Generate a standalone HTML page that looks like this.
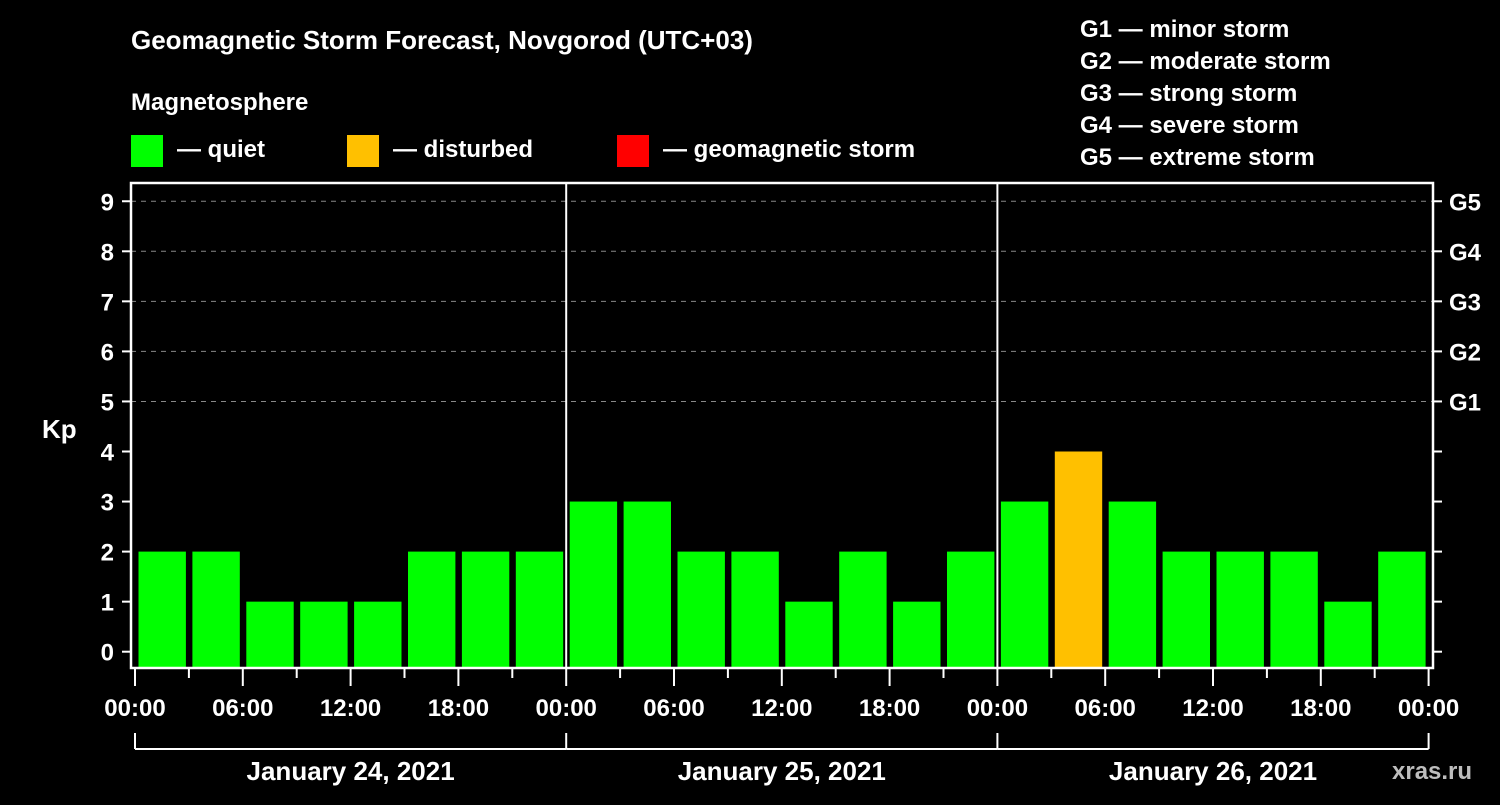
<!DOCTYPE html>
<html><head><meta charset="utf-8"><style>
body{margin:0;background:#000;width:1500px;height:800px;overflow:hidden}
svg text{font-family:"Liberation Sans",Arial,sans-serif;font-weight:bold;fill:#fff}
</style></head><body>
<svg id="c" width="1500" height="800" xmlns="http://www.w3.org/2000/svg">
<rect width="1500" height="800" fill="#000"/>
<text x="131" y="49" font-size="26">Geomagnetic Storm Forecast, Novgorod (UTC+03)</text>
<text x="131" y="110" font-size="24">Magnetosphere</text>
<g><rect x="131" y="135" width="32" height="32" fill="#00ff00"/><text x="177" y="157" font-size="24">— quiet</text></g>
<g><rect x="347" y="135" width="32" height="32" fill="#ffc000"/><text x="393" y="157" font-size="24">— disturbed</text></g>
<g><rect x="617" y="135" width="32" height="32" fill="#ff0000"/><text x="663" y="157" font-size="24">— geomagnetic storm</text></g>
<g font-size="24">
<text x="1080" y="37">G1 — minor storm</text>
<text x="1080" y="69">G2 — moderate storm</text>
<text x="1080" y="101">G3 — strong storm</text>
<text x="1080" y="133">G4 — severe storm</text>
<text x="1080" y="165">G5 — extreme storm</text>
</g>
<text x="42" y="438" font-size="26">Kp</text>
<text x="1392" y="779" font-size="24" fill="#aaa" style="fill:#bdbdbd">xras.ru</text>
<g id="plot"></g>
</svg>
<script>
const kpValues=[2,2,1,1,1,2,2,2, 3,3,2,2,1,2,1,2, 3,4,3,2,2,2,1,2];
const dayLabels=["January 24, 2021","January 25, 2021","January 26, 2021"];
const hourLabels=["00:00","06:00","12:00","18:00"];
const gLabels=["G1","G2","G3","G4","G5"];
const NS="http://www.w3.org/2000/svg";
const g=document.getElementById('plot');
const X0=135,SLOT=53.9,Y0=651.7,UNIT=50.05,L=131,R=1433,T=183,B=668;
const x=i=>X0+i*SLOT, y=v=>Y0-v*UNIT;
function mk(tag,attrs,txt){const e=document.createElementNS(NS,tag);for(const k in attrs)e.setAttribute(k,attrs[k]);if(txt!==undefined)e.textContent=txt;g.appendChild(e);return e;}
for(let v=5;v<=9;v++){const e=mk('line',{x1:L,x2:R,y1:y(v),y2:y(v),stroke:'#888','stroke-dasharray':'5,5','stroke-width':1});

}
kpValues.forEach((v,i)=>{const col=v>=5?'#ff0000':(v>=4?'#ffc000':'#00ff00');
const e=mk('rect',{x:x(i)+3.5,y:y(v),width:SLOT-6.5,height:B-y(v),fill:col});

});
const fr=mk('rect',{x:L,y:T,width:R-L,height:B-T,fill:'none',stroke:'#fff','stroke-width':2.5});


for(let d=1;d<3;d++){const e=mk('line',{x1:x(d*8),x2:x(d*8),y1:T,y2:B,stroke:'#fff','stroke-width':2});

}
for(let v=0;v<=9;v++){mk('line',{x1:122,x2:L,y1:y(v),y2:y(v),stroke:'#fff','stroke-width':2});
const t=mk('text',{x:114,y:y(v)+9,'font-size':24,'text-anchor':'end'},String(v));


mk('line',{x1:R,x2:R+9,y1:y(v),y2:y(v),stroke:'#fff','stroke-width':2});}
gLabels.forEach((s,k)=>{const t=mk('text',{x:1449,y:y(5+k)+9,'font-size':24},s);

});
for(let i=0;i<=24;i++){const major=i%2==0;mk('line',{x1:x(i),x2:x(i),y1:B,y2:major?686:678,stroke:'#fff','stroke-width':2});
if(major){const t=mk('text',{x:x(i),y:716,'font-size':24,'text-anchor':'middle'},hourLabels[(i/2)%4]);

}}
dayLabels.forEach((s,d)=>{mk('line',{x1:x(d*8),x2:x(d*8+8),y1:749,y2:749,stroke:'#fff','stroke-width':2});
mk('line',{x1:x(d*8),x2:x(d*8),y1:733,y2:749,stroke:'#fff','stroke-width':2});
const t=mk('text',{x:x(d*8+4),y:780,'font-size':26,'text-anchor':'middle'},s);

});
mk('line',{x1:x(24),x2:x(24),y1:733,y2:749,stroke:'#fff','stroke-width':2});
</script>
</body></html>
